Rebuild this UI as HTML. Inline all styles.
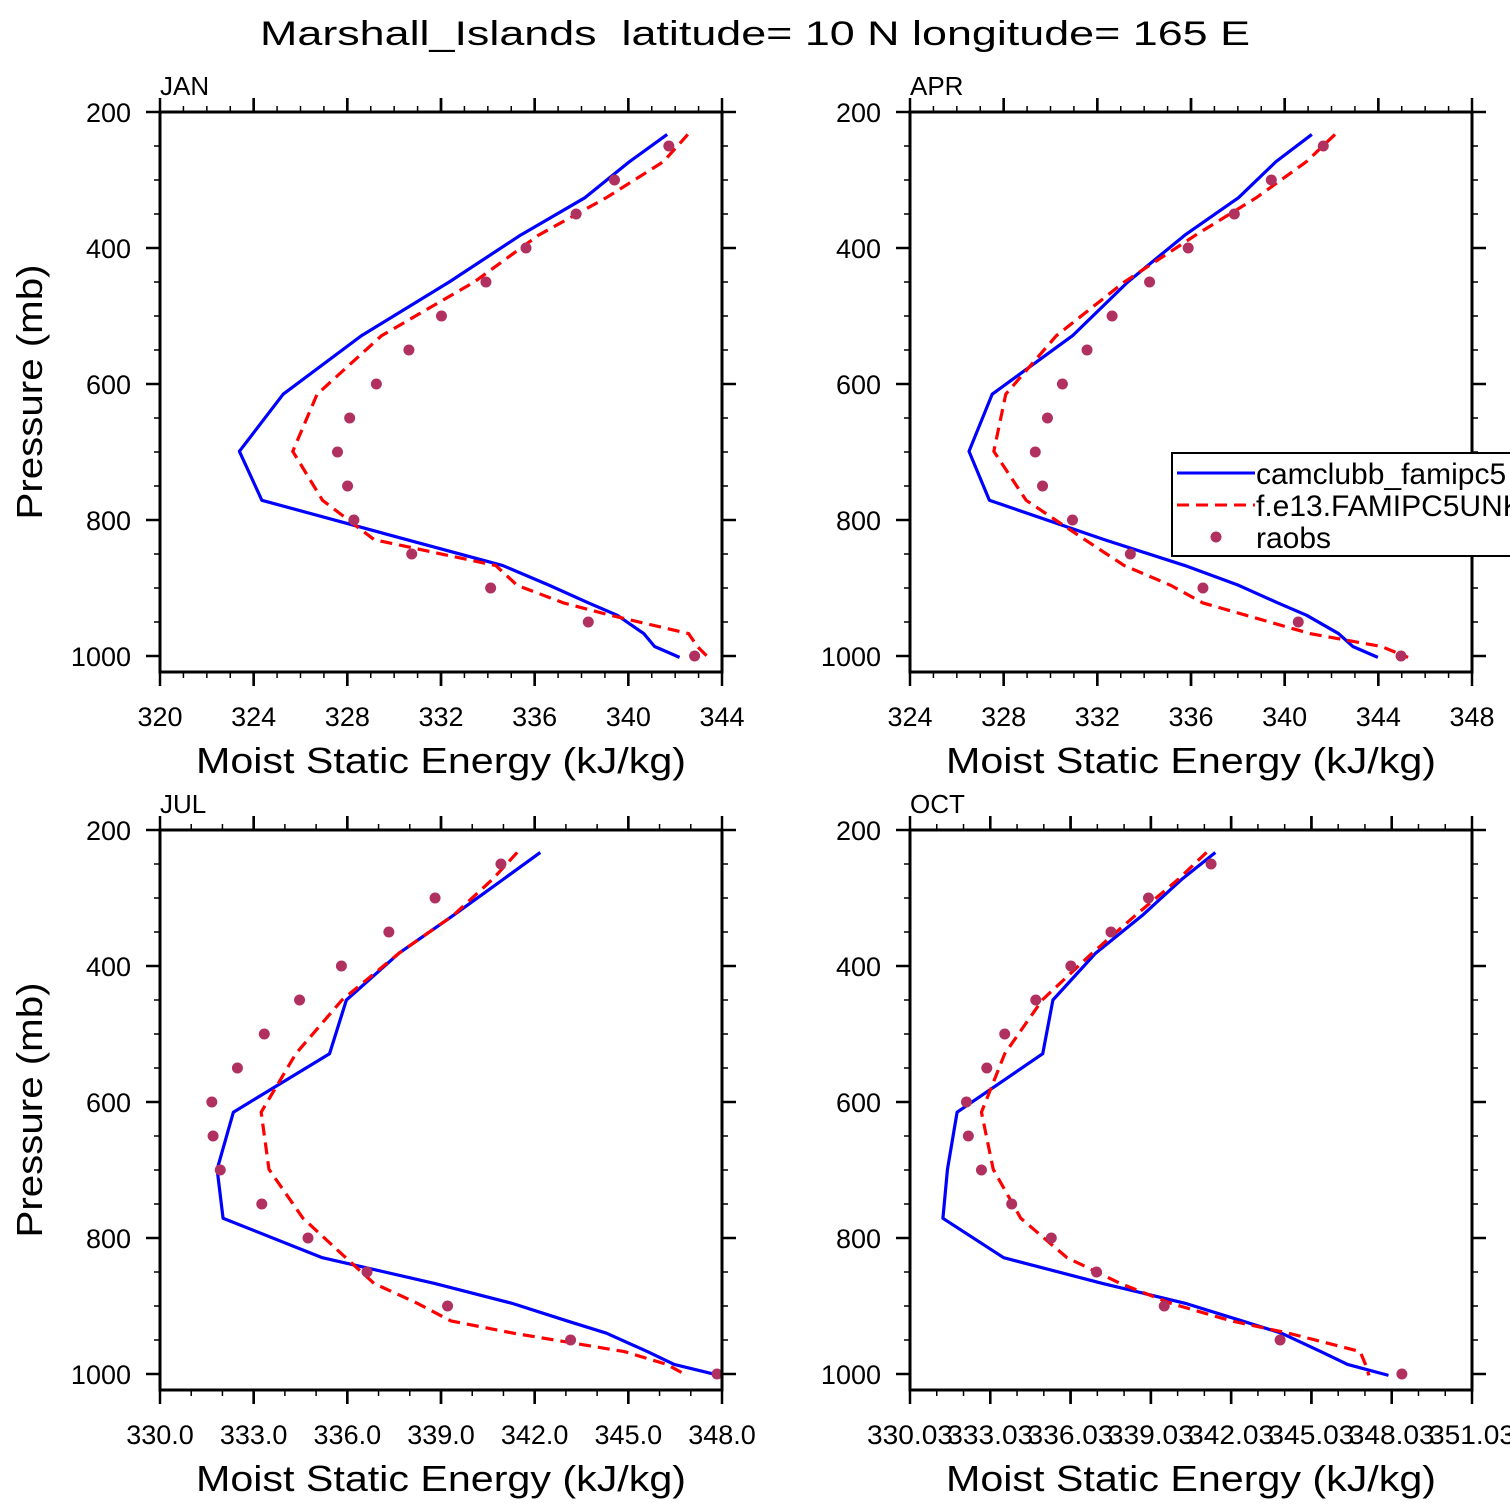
<!DOCTYPE html>
<html><head><meta charset="utf-8"><style>
html,body{margin:0;padding:0;background:#fff;width:1510px;height:1510px;overflow:hidden}
svg text{font-family:"Liberation Sans",sans-serif;fill:#000}
</style></head><body>
<svg id="chart" width="1510" height="1510" viewBox="0 0 1510 1510" xmlns="http://www.w3.org/2000/svg">
<rect x="0" y="0" width="1510" height="1510" fill="#fff"/>
<text x="755" y="45" font-size="34" text-anchor="middle" textLength="990" lengthAdjust="spacingAndGlyphs" xml:space="preserve">Marshall_Islands  latitude= 10 N longitude= 165 E</text>
</svg>
<script>
const modelLevels=[233,273,326,381,450,529,615,699,771,829,867,896,922,940,967,986,1002];
const obsLevels=[250,300,350,400,450,500,550,600,650,700,750,800,850,900,950,1000];
const months=["JAN","APR","JUL","OCT"];
const janCam=[341.66,340.05,338.15,335.4,332.35,328.6,325.26,323.39,324.35,330.54,334.64,336.62,338.3,339.52,340.66,341.12,342.19];
const janF13=[342.54,341.5,339.06,336.17,333.42,329.46,326.71,325.67,326.94,329.15,334.34,335.25,337.24,339.22,342.57,342.95,343.41];
const janObs=[341.73,339.41,337.77,335.63,333.92,332.02,330.63,329.24,328.1,327.58,328.01,328.28,330.75,334.12,338.29,342.83];
const aprCam=[341.16,339.63,338.03,335.74,333.3,330.94,327.51,326.52,327.39,332.31,335.74,338.03,339.71,340.93,342.3,342.91,343.98];
const aprF13=[342.15,340.93,338.79,336.2,333.15,330.25,328.09,327.58,328.96,331.47,333.15,335.13,336.51,338.34,341.08,344.13,345.27];
const aprObs=[341.65,339.43,337.85,335.88,334.23,332.63,331.56,330.51,329.87,329.35,329.66,330.94,333.41,336.51,340.58,344.97];
const julCam=[342.18,340.98,339.38,337.66,335.97,335.43,332.35,331.83,332.02,335.2,338.81,341.27,343.04,344.3,345.61,346.47,347.9];
const julF13=[341.44,340.64,339.38,337.66,335.83,334.35,333.24,333.49,334.58,335.95,336.86,338.24,339.32,341.32,344.87,346.24,346.87];
const julObs=[340.92,338.81,337.33,335.81,334.47,333.34,332.48,331.66,331.7,331.93,333.26,334.74,336.63,339.21,343.15,347.84];
const octCam=[341.44,340.17,338.7,336.97,335.37,334.99,331.79,331.43,331.26,333.53,337.24,340.31,342.44,343.91,345.38,346.38,347.91];
const octF13=[341.11,340.04,338.44,336.84,334.97,333.57,332.7,333.14,334.17,335.9,337.9,339.77,342.04,344.18,346.85,347.05,347.18];
const octObs=[341.28,338.94,337.54,336.04,334.73,333.57,332.9,332.14,332.21,332.7,333.83,335.31,337.0,339.53,343.86,348.41];
const xTicksJan=[320,324,328,332,336,340,344];
const xTicksApr=[324,328,332,336,340,344,348];
const xTicksJul=[330,333,336,339,342,345,348];
const xTicksOct=[330.03,333.03,336.03,339.03,342.03,345.03,348.03,351.03];
const yTicks=[200,400,600,800,1000];

const NS="http://www.w3.org/2000/svg";
const svg=document.getElementById('chart');
function el(t,a,p){const e=document.createElementNS(NS,t);for(const k in a)e.setAttribute(k,a[k]);(p||svg).appendChild(e);return e;}

const panels=[
 {m:0,x0:160,y0:112,ticks:xTicksJan,dec:0,cam:janCam,f13:janF13,obs:janObs,showY:true},
 {m:1,x0:910,y0:112,ticks:xTicksApr,dec:0,cam:aprCam,f13:aprF13,obs:aprObs,showY:false},
 {m:2,x0:160,y0:830,ticks:xTicksJul,dec:1,cam:julCam,f13:julF13,obs:julObs,showY:true},
 {m:3,x0:910,y0:830,ticks:xTicksOct,dec:2,cam:octCam,f13:octF13,obs:octObs,showY:false,wide:true}
];
const W=562,H=560,PMIN=200,PMAX=200+560/0.68;

panels.forEach(P=>{
 const g=el('g',{});
 
 
 const xmin=P.ticks[0],xmax=P.ticks[P.ticks.length-1];
 const X=v=>P.x0+(v-xmin)/(xmax-xmin)*W;
 const Y=p=>P.y0+(p-PMIN)/(PMAX-PMIN)*H;
 const clipId='clip'+P.m;
 const cp=el('clipPath',{id:clipId},g);el('rect',{x:P.x0,y:P.y0,width:W,height:H},cp);
 const tk=el('g',{stroke:'#000'},g);
 
 
 for(let i=0;i<P.ticks.length-1;i++){
  const a=P.ticks[i],b=P.ticks[i+1],n=Math.round(b-a);
  for(let j=0;j<=n;j++){
   const v=a+(b-a)*j/n,x=X(v),maj=(j===0||j===n),L=maj?14:6,sw=maj?2.5:1.5;
   el('line',{x1:x,x2:x,y1:P.y0+H,y2:P.y0+H+L,'stroke-width':sw},tk);
   el('line',{x1:x,x2:x,y1:P.y0,y2:P.y0-L,'stroke-width':sw},tk);
  }
 }
 for(let p=200;p<=1000;p+=50){
  const y=Y(p),maj=(p%200===0),L=maj?14:6,sw=maj?2.5:1.5;
  el('line',{x1:P.x0,x2:P.x0-L,y1:y,y2:y,'stroke-width':sw},tk);
  el('line',{x1:P.x0+W,x2:P.x0+W+L,y1:y,y2:y,'stroke-width':sw},tk);
 }
 P.ticks.forEach(v=>{
  const t=el('text',{x:X(v),y:P.y0+H+54,'font-size':27,'text-anchor':'middle'},g);
  if(P.wide){t.setAttribute('textLength','86');t.setAttribute('lengthAdjust','spacingAndGlyphs');}
  
  
  t.textContent=P.dec===2?v.toFixed(2):v.toFixed(P.dec);
 });
 yTicks.forEach(p=>{
  const t=el('text',{x:P.x0-29,y:Y(p)+10,'font-size':27,'text-anchor':'end'},g);
  
  
  t.textContent=p;
 });
 const ml=el('text',{x:P.x0,y:P.y0-17,'font-size':26},g);
 
 
 ml.textContent=months[P.m];
 const xt=el('text',{x:P.x0+W/2,y:P.y0+H+101,'font-size':36,'text-anchor':'middle',textLength:490,lengthAdjust:'spacingAndGlyphs'},g);
 
 
 xt.textContent='Moist Static Energy (kJ/kg)';
 if(P.showY){
  const cy=P.y0+280;
  const yt=el('text',{x:0,y:0,'font-size':36,'text-anchor':'middle',transform:'translate(42,'+cy+') rotate(-90)',textLength:255,lengthAdjust:'spacingAndGlyphs'},g);
  
  
  yt.textContent='Pressure (mb)';
 }
 const sg=el('g',{'clip-path':'url(#'+clipId+')'},g);
 const pc=el('polyline',{points:P.cam.map((v,i)=>X(v)+','+Y(modelLevels[i])).join(' '),fill:'none',stroke:'#0000ff','stroke-width':3.2,'stroke-linejoin':'round'},sg);
 
 
 const pf=el('polyline',{points:P.f13.map((v,i)=>X(v)+','+Y(modelLevels[i])).join(' '),fill:'none',stroke:'#ff0000','stroke-width':3.2,'stroke-dasharray':'12 7'},sg);
 
 
 P.obs.forEach((v,i)=>{
  const c=el('circle',{cx:X(v),cy:Y(obsLevels[i]),r:5.5,fill:'#b03060'},sg);
  
  
 });
 const fr=el('rect',{x:P.x0,y:P.y0,width:W,height:H,fill:'none',stroke:'#000','stroke-width':3},g);
 
 
});

const lg=el('g',{});


el('rect',{x:1172,y:453,width:345,height:103,fill:'#fff',stroke:'#000','stroke-width':2},lg);
const e1=el('line',{x1:1177,x2:1255,y1:473,y2:473,stroke:'#0000ff','stroke-width':3},lg);


const e2=el('line',{x1:1177,x2:1255,y1:505,y2:505,stroke:'#ff0000','stroke-width':3,'stroke-dasharray':'12 7'},lg);


const e3=el('circle',{cx:1216,cy:537,r:5.5,fill:'#b03060'},lg);


[['camclubb_famipc5',484],['f.e13.FAMIPC5UNK',516],['raobs',548]].forEach(([s,y])=>{
 const t=el('text',{x:1256,y:y,'font-size':30},lg);
 
 
 t.textContent=s;
});
</script>
</body></html>
